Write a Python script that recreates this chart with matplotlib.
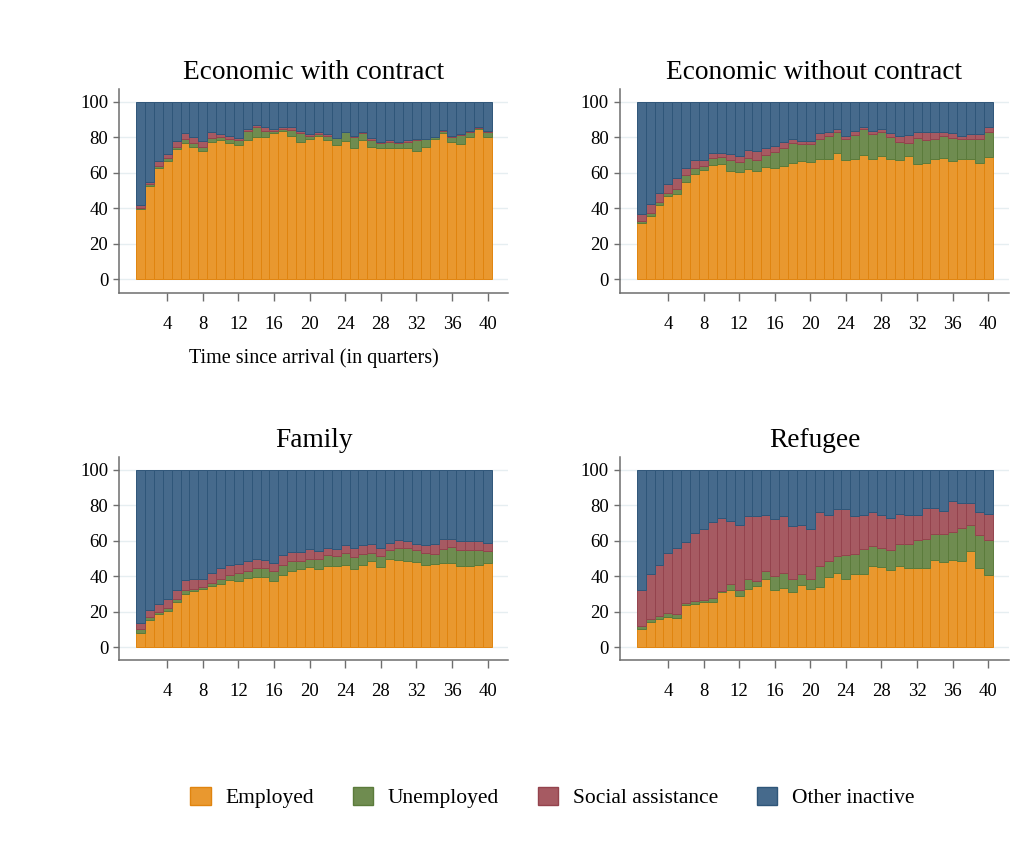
import numpy as np
import matplotlib
matplotlib.use("Agg")
import matplotlib.pyplot as plt
from matplotlib.patches import Patch

plt.rcParams["font.family"] = ["Liberation Serif", "DejaVu Serif"]

quarters = np.arange(1, 41)
xtick_vals = [4, 8, 12, 16, 20, 24, 28, 32, 36, 40]
ytick_vals = [0, 20, 40, 60, 80, 100]

titles = ["Economic with contract", "Economic without contract", "Family", "Refugee"]
categories = ["Employed", "Unemployed", "Social assistance", "Other inactive"]

# shares in percent
econ_contract_emp = [39.4, 52.7, 62.9, 66.8, 73.2, 76.9, 74.7, 72.4, 77.5, 78.4,
                     76.5, 75.6, 78.4, 80.3, 80.3, 82.6, 83.5, 80.7, 77.5, 78.8,
                     80.9, 78.4, 75.6, 77.9, 73.7, 78.4, 74.7, 73.7, 73.7, 73.7,
                     73.7, 72.4, 74.3, 78.8, 82.6, 77.5, 76.2, 79.9, 84.4, 79.9]
econ_contract_unemp = [1.0, 1.0, 1.0, 1.3, 1.5, 2.1, 1.8, 2.3, 1.9, 1.5,
                       2.3, 2.8, 5.3, 5.3, 3.4, 1.1, 0.9, 3.4, 4.7, 2.2,
                       0.9, 2.3, 3.8, 4.8, 6.6, 3.8, 3.7, 2.8, 3.8, 3.2,
                       3.8, 6.0, 4.5, 1.1, 1.1, 2.8, 5.0, 3.2, 0.6, 3.2]
econ_contract_social = [1.4, 0.9, 2.7, 2.4, 3.3, 3.2, 3.4, 3.3, 3.5, 1.9,
                        1.9, 1.0, 1.1, 1.1, 1.9, 0.9, 1.2, 1.5, 1.1, 0.6,
                        0.9, 0.9, 0.3, 0.4, 0.6, 0.9, 1.0, 1.0, 0.9, 0.6,
                        0.9, 0.4, 0.4, 0.4, 0.4, 0.4, 0.4, 0.6, 0.6, 0.6]

econ_nocontract_emp = [31.5, 35.6, 41.8, 47.1, 47.8, 54.6, 59.1, 61.4, 64.2, 64.9,
                       61.2, 60.4, 61.9, 61.0, 63.4, 62.7, 63.8, 65.7, 66.8, 65.9,
                       67.9, 67.9, 70.9, 67.2, 67.7, 70.2, 67.7, 69.4, 67.9, 67.2,
                       69.4, 65.1, 65.7, 67.7, 68.5, 66.4, 67.7, 67.7, 65.3, 68.7]
econ_nocontract_unemp = [1.3, 1.5, 1.5, 1.3, 3.0, 3.9, 3.4, 2.4, 3.9, 3.8,
                         6.0, 5.5, 6.6, 6.2, 6.6, 9.2, 9.9, 11.2, 9.4, 10.1,
                         11.1, 12.8, 11.8, 11.6, 13.5, 14.2, 13.9, 13.3, 12.0, 10.3,
                         7.1, 14.6, 12.7, 11.3, 12.2, 13.0, 11.1, 11.1, 13.5, 14.4]
econ_nocontract_social = [4.0, 5.1, 5.1, 5.1, 6.4, 4.4, 4.5, 3.2, 3.0, 2.2,
                          3.2, 3.3, 4.3, 5.0, 4.1, 3.1, 3.4, 2.1, 1.8, 2.0,
                          3.4, 2.4, 1.7, 1.9, 2.5, 1.3, 1.9, 1.7, 2.3, 3.2,
                          4.7, 3.4, 4.3, 3.7, 2.0, 2.8, 2.1, 2.8, 2.8, 2.6]

family_emp = [8.2, 15.2, 18.5, 20.4, 25.5, 30.1, 31.5, 32.6, 34.5, 35.4,
              37.6, 37.3, 39.0, 39.5, 39.5, 37.3, 40.4, 42.7, 44.2, 44.9,
              44.0, 45.5, 45.7, 46.1, 44.0, 46.1, 48.3, 45.1, 49.4, 49.3,
              48.7, 47.9, 46.1, 46.6, 47.6, 47.6, 45.5, 45.7, 46.4, 47.6]
family_unemp = [1.9, 1.5, 1.4, 1.7, 1.8, 1.9, 1.5, 1.3, 1.8, 3.2,
                3.2, 4.6, 3.7, 5.3, 5.3, 5.4, 5.7, 5.6, 4.1, 4.9,
                5.4, 6.2, 5.4, 6.9, 6.7, 6.1, 4.9, 6.2, 5.1, 6.7,
                7.1, 6.6, 7.1, 6.0, 7.8, 8.6, 9.4, 9.2, 8.5, 6.5]
family_social = [3.6, 4.1, 4.1, 4.9, 4.7, 6.0, 5.6, 4.7, 5.5, 6.0,
                 5.6, 4.9, 5.6, 5.0, 4.1, 4.7, 5.6, 5.3, 5.3, 5.3,
                 4.9, 4.3, 4.3, 4.7, 5.3, 5.1, 5.0, 4.5, 4.1, 4.1,
                 3.9, 3.7, 4.1, 5.5, 5.6, 4.8, 4.7, 4.7, 4.7, 4.7]

refugee_emp = [10.1, 14.2, 15.7, 17.0, 16.5, 23.6, 24.0, 25.5, 25.5, 31.1,
               32.0, 28.7, 33.0, 34.3, 38.2, 32.0, 33.5, 31.1, 34.8, 32.6,
               33.9, 39.5, 41.8, 38.2, 41.4, 41.4, 45.5, 45.1, 43.3, 45.5,
               44.6, 44.6, 44.6, 49.3, 47.9, 49.3, 48.3, 53.9, 44.8, 40.4]
refugee_unemp = [1.9, 1.9, 1.9, 2.3, 2.0, 1.3, 2.0, 1.3, 2.2, 0.4,
                 3.8, 3.3, 5.2, 2.8, 4.5, 8.1, 8.4, 7.5, 6.2, 6.0,
                 11.6, 9.0, 9.5, 13.5, 10.8, 13.7, 11.2, 10.7, 11.6, 12.7,
                 13.6, 15.5, 16.4, 14.2, 15.6, 15.5, 18.7, 14.6, 18.1, 19.7]
refugee_social = [20.0, 25.3, 28.5, 33.7, 37.5, 34.3, 38.4, 39.9, 42.7, 41.3,
                  35.5, 36.9, 35.6, 36.7, 31.5, 32.2, 31.7, 29.4, 27.9, 27.7,
                  30.5, 26.0, 26.6, 26.2, 21.4, 19.4, 19.3, 18.7, 17.9, 16.9,
                  16.0, 14.1, 17.3, 14.8, 13.1, 17.2, 14.3, 12.8, 13.1, 14.6]

panels = [
    (econ_contract_emp, econ_contract_unemp, econ_contract_social),
    (econ_nocontract_emp, econ_nocontract_unemp, econ_nocontract_social),
    (family_emp, family_unemp, family_social),
    (refugee_emp, refugee_unemp, refugee_social),
]

fills = ["#E9982F", "#6F8C50", "#A65A62", "#466A8C"]
edges = ["#E0840F", "#5B7B3B", "#94434D", "#2F5679"]

fig = plt.figure(figsize=(10.31, 8.41), dpi=100)

positions = [
    [0.1157, 0.652, 0.377, 0.2422],
    [0.6014, 0.652, 0.377, 0.2422],
    [0.1157, 0.2147, 0.377, 0.2422],
    [0.6014, 0.2147, 0.377, 0.2422],
]

for i, (pos, title, (emp, unemp, social)) in enumerate(zip(positions, titles, panels)):
    ax = fig.add_axes(pos)
    emp = np.array(emp)
    unemp = np.array(unemp)
    social = np.array(social)
    other = 100 - emp - unemp - social
    bottom = np.zeros(len(quarters))
    for vals, fc, ec in zip([emp, unemp, social, other], fills, edges):
        ax.bar(quarters, vals, width=1.0, bottom=bottom, color=fc,
               edgecolor=ec, linewidth=0.7, zorder=2)
        bottom = bottom + vals

    ax.set_xlim(-1.38, 42.3)
    ax.set_ylim(-7.5, 107.2)
    ax.set_xticks(xtick_vals)
    ax.set_yticks(ytick_vals)
    ax.yaxis.grid(True, color="#E6EEF1", linewidth=1.0, zorder=0)
    ax.set_axisbelow(True)
    for side in ["top", "right"]:
        ax.spines[side].set_visible(False)
    for side in ["left", "bottom"]:
        ax.spines[side].set_color("#6E6E6E")
        ax.spines[side].set_linewidth(1.1)
    ax.tick_params(axis="y", length=4.5, width=1.0, color="#6E6E6E",
                   labelsize=13.5, pad=3.5)
    ax.tick_params(axis="x", length=5.5, width=1.0, color="#6E6E6E",
                   labelsize=13.5, pad=11)
    ax.set_title(title, fontsize=19.7, pad=7)
    if i == 0:
        ax.set_xlabel("Time since arrival (in quarters)", fontsize=14.5, labelpad=11)

handles = [Patch(facecolor=fc, edgecolor=ec, linewidth=1.0) for fc, ec in zip(fills, edges)]
fig.legend(handles, categories, loc="center", bbox_to_anchor=(0.536, 0.0515),
           ncol=4, frameon=False, fontsize=15.5, handlelength=0.93,
           handleheight=0.93, handletextpad=0.7, columnspacing=1.8)

fig.savefig("out.png", dpi=100, facecolor="white")
